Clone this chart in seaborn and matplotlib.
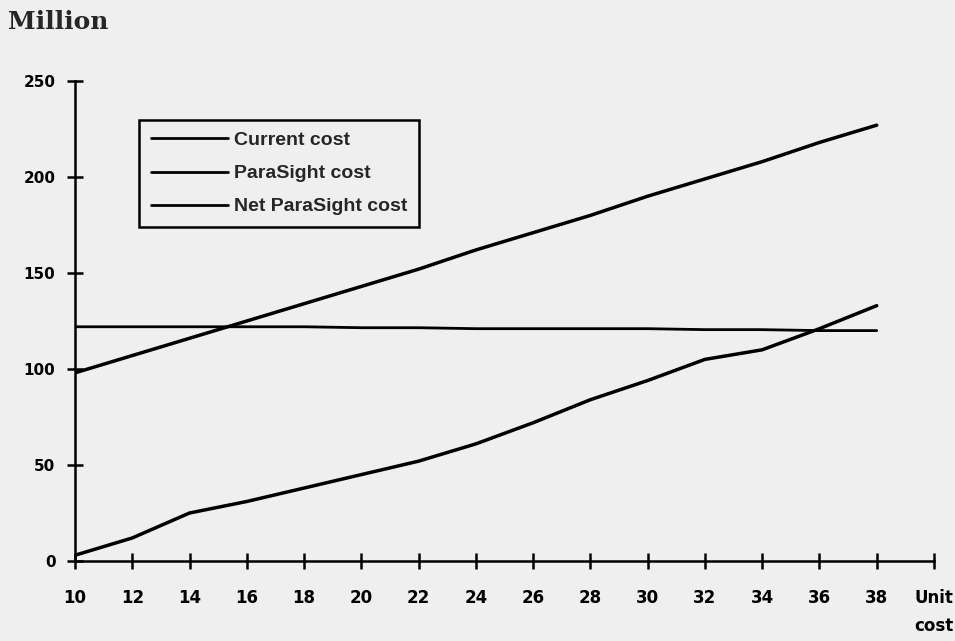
import pandas as pd
import seaborn as sns
import matplotlib.pyplot as plt

# unit cost on the x axis, values in million
unit_cost = [10, 12, 14, 16, 18, 20, 22, 24, 26, 28, 30, 32, 34, 36, 38]
current_cost = [122, 122, 122, 122, 122, 121.5, 121.5, 121, 121, 121, 121, 120.5, 120.5, 120, 120]
parasight_cost = [3, 12, 25, 31, 38, 45, 52, 61, 72, 84, 94, 105, 110, 121, 133]
net_parasight_cost = [98, 107, 116, 125, 134, 143, 152, 162, 171, 180, 190, 199, 208, 218, 227]

series_names = ["Current cost", "ParaSight cost", "Net ParaSight cost"]
x_ticks = [10, 12, 14, 16, 18, 20, 22, 24, 26, 28, 30, 32, 34, 36, 38, 40]
x_tick_labels = ["10", "12", "14", "16", "18", "20", "22", "24", "26", "28",
                 "30", "32", "34", "36", "38", "Unit\ncost"]
y_ticks = [0, 50, 100, 150, 200, 250]

df = pd.DataFrame({
    "unit_cost": unit_cost * 3,
    "value": current_cost + parasight_cost + net_parasight_cost,
    "series": [series_names[0]] * len(unit_cost)
              + [series_names[1]] * len(unit_cost)
              + [series_names[2]] * len(unit_cost),
})

sns.set_style("white")
plt.rcParams['font.family'] = ['DejaVu Sans']
paper = "#efefef"

fig = plt.figure(figsize=(9.55, 6.41), dpi=100, facecolor=paper)
ax = fig.add_axes([75 / 955, 1 - 561 / 641, 859 / 955, 480 / 641])
ax.set_facecolor(paper)

widths = {series_names[0]: 2.0, series_names[1]: 2.5, series_names[2]: 2.5}
for name in series_names:
    sns.lineplot(data=df[df["series"] == name], x="unit_cost", y="value",
                 color="black", linewidth=widths[name], label=name, ax=ax,
                 solid_capstyle="round")

ax.set_xlim(10, 40)
ax.set_ylim(0, 250)
ax.set_xticks(x_ticks)
ax.set_xticklabels(x_tick_labels, fontsize=12, fontweight="bold")
ax.set_yticks(y_ticks)
ax.set_yticklabels([str(v) for v in y_ticks], fontsize=11, fontweight="bold")
ax.set_xlabel("")
ax.set_ylabel("")

for s in ["top", "right"]:
    ax.spines[s].set_visible(False)
for s in ["left", "bottom"]:
    ax.spines[s].set_linewidth(1.8)
    ax.spines[s].set_color("black")

ax.tick_params(axis="x", bottom=True, direction="inout", length=12, width=1.8, pad=14, colors="black")
ax.tick_params(axis="y", left=True, direction="inout", length=12, width=1.8, pad=8, colors="black")
for lab in ax.get_xticklabels():
    lab.set_linespacing(1.75)

leg = ax.legend(loc="upper left", bbox_to_anchor=(0.0745, 0.919), borderaxespad=0,
                frameon=True, fancybox=False, handlelength=4.0, handletextpad=0.3,
                labelspacing=0.8, borderpad=0.6,
                prop={"family": "Liberation Sans", "weight": "bold", "size": 14})
leg.get_frame().set_edgecolor("black")
leg.get_frame().set_linewidth(1.8)
leg.get_frame().set_facecolor(paper)
leg.get_frame().set_alpha(1)
for h in leg.get_lines():
    h.set_linewidth(2.0)

fig.text(8 / 955, 1 - 22 / 641, "Million", family="DejaVu Serif", fontweight="bold",
         fontsize=18, va="center", ha="left")

fig.savefig("out.png", dpi=100, facecolor=paper)
